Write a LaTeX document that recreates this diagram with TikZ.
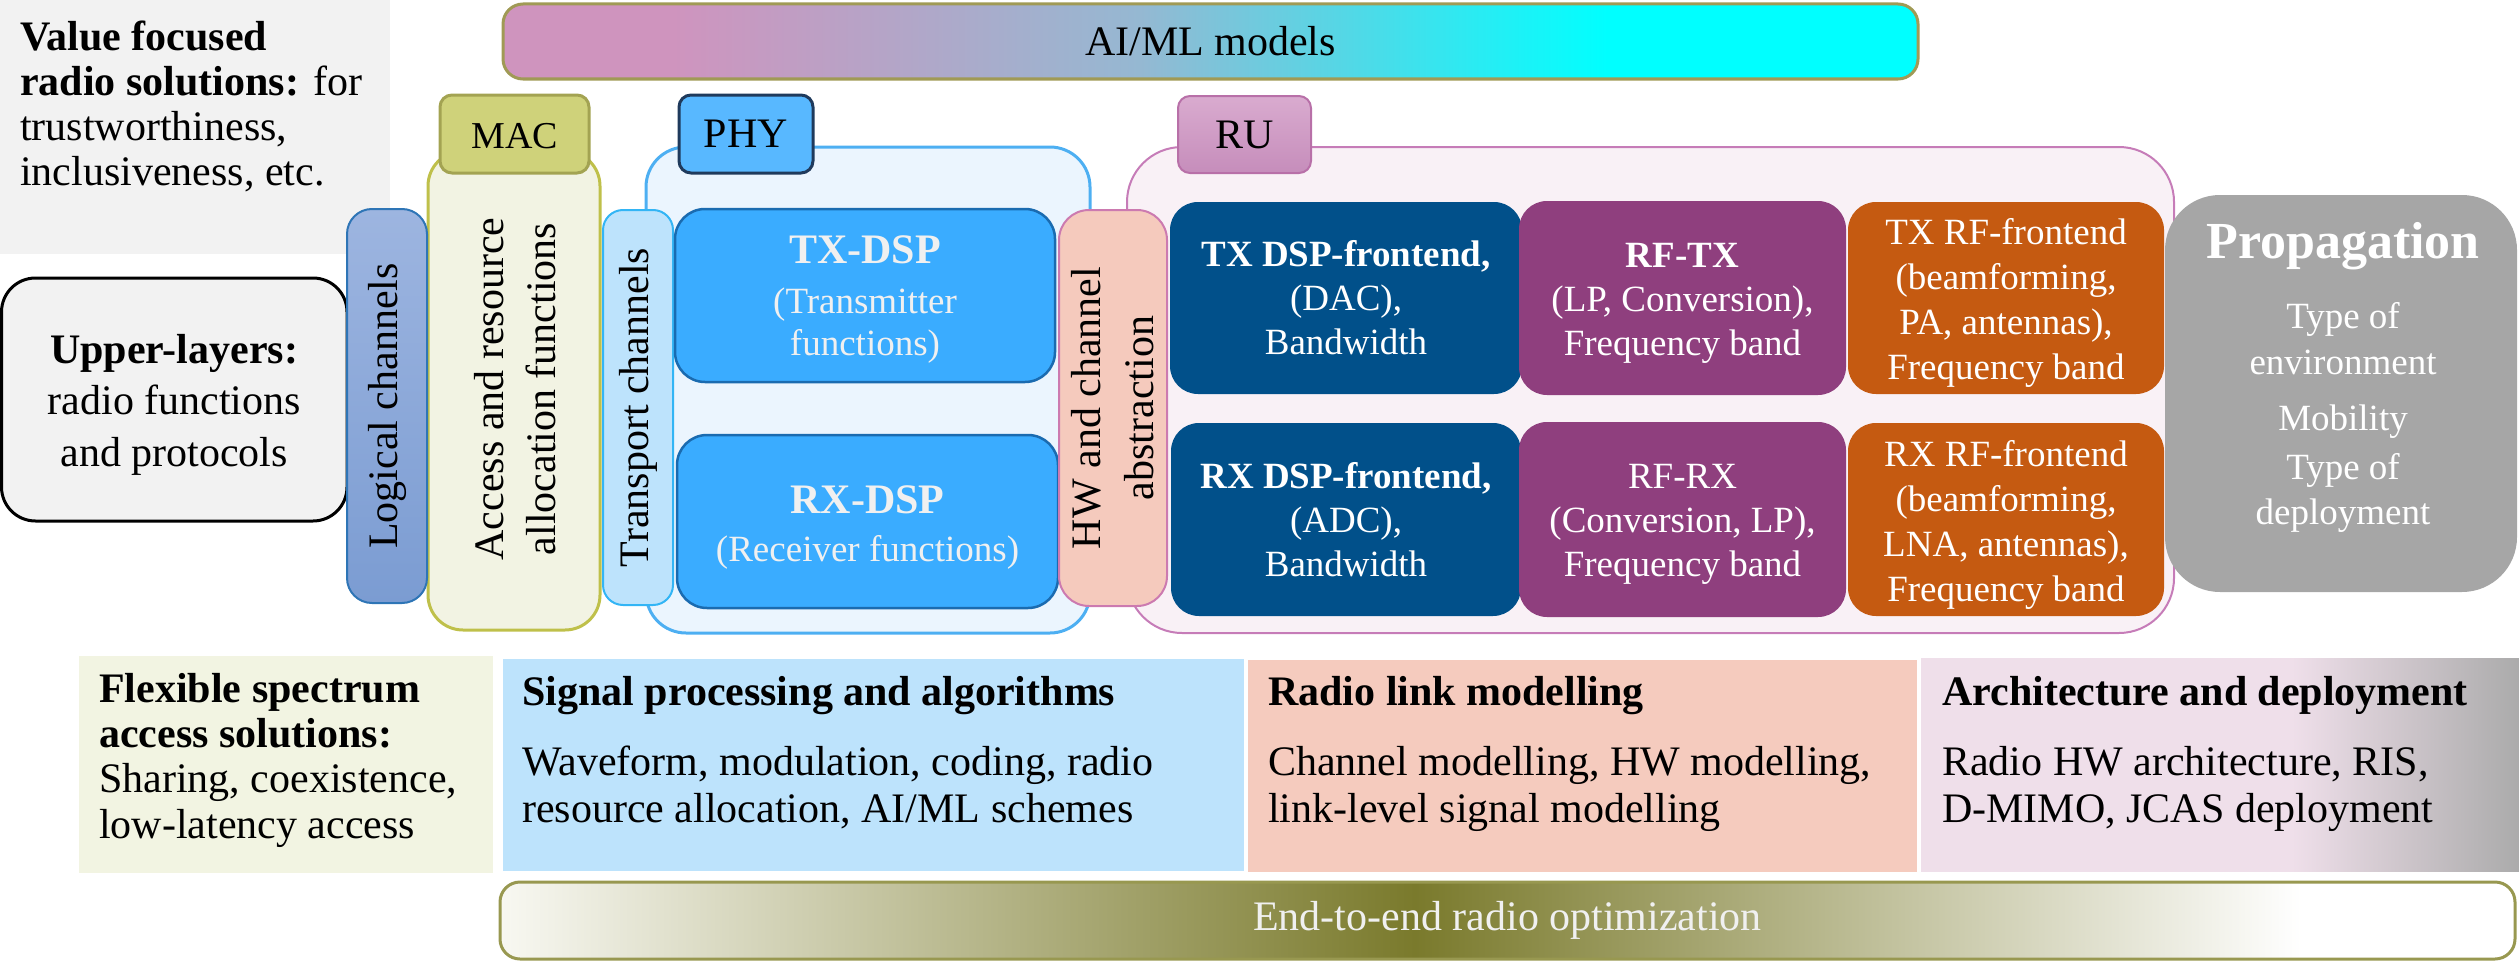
\documentclass[tikz,border=0pt]{standalone}
\usepackage{fontspec}
\setmainfont{Liberation Serif}
\usetikzlibrary{fit}

% palette
\definecolor{grayPanel}{HTML}{F2F2F2}
\definecolor{aiPink}{HTML}{CF94BE}
\definecolor{aiMid}{HTML}{95B8D2}
\definecolor{aiCyan}{HTML}{00FFFF}
\definecolor{aiBorder}{HTML}{A09A55}
\definecolor{eeDark}{HTML}{7A7A2C}
\definecolor{eeLight}{HTML}{F8F8F2}
\definecolor{eeBorder}{HTML}{989850}
\definecolor{archPink}{HTML}{EFDFEA}
\definecolor{archGray}{HTML}{ABABAB}
\definecolor{logTop}{HTML}{9DB5E0}
\definecolor{logBot}{HTML}{7B9CD2}
\definecolor{logBorder}{HTML}{2E75B6}
\definecolor{macFill}{HTML}{CFD27A}
\definecolor{macBorder}{HTML}{A3A352}
\definecolor{macBg}{HTML}{F2F3E3}
\definecolor{macBgBorder}{HTML}{BFC04A}
\definecolor{trFill}{HTML}{BDE3FC}
\definecolor{trBorder}{HTML}{33B5F5}
\definecolor{phyBg}{HTML}{EBF5FE}
\definecolor{phyBgBorder}{HTML}{4DAFF2}
\definecolor{phyTab}{HTML}{58B8FF}
\definecolor{phyTabBorder}{HTML}{1F3A5C}
\definecolor{dspFill}{HTML}{3AACFF}
\definecolor{dspBorder}{HTML}{1A6BB0}
\definecolor{dspText}{HTML}{F0F0F0}
\definecolor{hwFill}{HTML}{F5CABD}
\definecolor{hwBorder}{HTML}{CC7AB0}
\definecolor{ruBg}{HTML}{F9F1F6}
\definecolor{ruBorder}{HTML}{C67CB8}
\definecolor{ruTabTop}{HTML}{D9ABCF}
\definecolor{ruTabBot}{HTML}{C68DBB}
\definecolor{ruTabBorder}{HTML}{B870A8}
\definecolor{feBlue}{HTML}{01508A}
\definecolor{rfPurple}{HTML}{8F3F7E}
\definecolor{rfOrange}{HTML}{C55A11}
\definecolor{propGray}{HTML}{A6A6A6}
\definecolor{flexFill}{HTML}{F2F4E2}
\definecolor{sigFill}{HTML}{BDE3FC}
\definecolor{linkFill}{HTML}{F5CBBE}

% horizontal colour ramps (the path spans 25bp..75bp)
\pgfdeclarehorizontalshading{aibar}{100bp}{color(0bp)=(aiPink); color(25bp)=(aiPink); color(31bp)=(aiPink); color(47.5bp)=(aiMid); color(64bp)=(aiCyan); color(100bp)=(aiCyan)}
\pgfdeclarehorizontalshading{e2ebar}{100bp}{color(0bp)=(eeLight); color(25bp)=(eeLight); color(47.7bp)=(eeDark); color(69.7bp)=(white); color(100bp)=(white)}
\pgfdeclarehorizontalshading{archbox}{100bp}{color(0bp)=(archPink); color(25bp)=(archPink); color(56bp)=(archPink); color(75bp)=(archGray); color(100bp)=(archGray)}

\tikzset{
  panel/.style={inner sep=0pt, outer sep=0pt},
  lbl/.style={inner sep=0pt, align=center},
  fmain/.style={font=\fontsize{42}{45}\selectfont},
  fru/.style={font=\fontsize{37}{44}\selectfont, text=white},
  fdsp/.style={font=\fontsize{37}{42}\selectfont, text=dspText},
  dspbox/.style={panel, draw=dspBorder, line width=2.5pt, fill=dspFill, rounded corners=30pt},
  rubox/.style={panel, rounded corners=28pt},
  vlabel/.style={rotate=90, inner sep=0pt, align=center},
  textblock/.style={anchor=north west, inner sep=0pt, align=left},
}

\begin{document}
\begin{tikzpicture}[x=1pt, y=-1pt]
\useasboundingbox (0,0) rectangle (2519,966);

% ---- left column ----
\node[panel, fill=grayPanel, fit={(0,0)(390,254)}] (value) {};
\node[textblock, fmain] (valuetxt) at (20,21)
  {\textbf{Value focused}\\\textbf{radio solutions:} for\\trustworthiness,\\inclusiveness, etc.};

\node[panel, draw=black, line width=3pt, fill=grayPanel, rounded corners=34pt,
      fit={(1.5,278)(347,521)}] (upper) {};
\node[lbl, font=\fontsize{42}{51.5}\selectfont, yshift=-5pt] (uppertxt) at (upper.center)
  {\textbf{Upper-layers:}\\radio functions\\and protocols};

% ---- AI/ML bar ----
\node[panel, draw=aiBorder, line width=3pt, shading=aibar, rounded corners=20pt,
      fit={(503,4)(1918,79)}] (ai) {};
\node[lbl, fmain] (aitxt) at (ai.center) {AI/ML models};

% ---- layer containers ----
\node[panel, draw=ruBorder, line width=2pt, fill=ruBg, rounded corners=55pt,
      fit={(1127,147)(2174,633)}] (ru) {};
\node[panel, draw=phyBgBorder, line width=3pt, fill=phyBg, rounded corners=40pt,
      fit={(646,147)(1090,633)}] (phy) {};
\node[panel, draw=macBgBorder, line width=3pt, fill=macBg, rounded corners=35pt,
      fit={(428,151)(600,630)}] (mac) {};

% ---- tabs ----
\node[panel, draw=macBorder, line width=3pt, fill=macFill, rounded corners=12pt,
      fit={(440,95)(589,173)}] (mactab) {};
\node[lbl, font=\fontsize{38}{38}\selectfont, yshift=-2pt] (mactabtxt) at (mactab.center) {MAC};
\node[panel, draw=phyTabBorder, line width=3pt, fill=phyTab, rounded corners=12pt,
      fit={(679,95)(813,173)}] (phytab) {};
\node[lbl, fmain] (phytabtxt) at (phytab.center) {PHY};
\node[panel, draw=ruTabBorder, line width=2pt, top color=ruTabTop, bottom color=ruTabBot,
      rounded corners=12pt, fit={(1178,96)(1311,173)}] (rutab) {};
\node[lbl, fmain] (rutabtxt) at (rutab.center) {RU};

% ---- channel strips ----
\node[panel, draw=logBorder, line width=2pt, top color=logTop, bottom color=logBot,
      rounded corners=25pt, fit={(347,209)(427,603)}] (logical) {};
\node[vlabel, fmain] (logicaltxt) at (logical.center) {Logical channels};

\node[vlabel, font=\fontsize{42}{52}\selectfont] (mactxt) at (515,389)
  {Access and resource\\allocation functions};

\node[panel, draw=trBorder, line width=2pt, fill=trFill, rounded corners=20pt,
      fit={(603,210)(673,605)}] (transport) {};
\node[vlabel, fmain] (transporttxt) at (transport.center) {Transport channels};

% ---- PHY processing ----
\node[dspbox, fit={(675,209)(1055,382)}] (txdsp) {};
\node[lbl, fdsp, yshift=-4pt] (txdsptxt) at (txdsp.center)
  {{\fontsize{42}{42}\selectfont\bfseries TX-DSP}\\[8pt](Transmitter\\functions)};
\node[dspbox, fit={(677,435)(1058,608)}] (rxdsp) {};
\node[lbl, fdsp, yshift=-6pt] (rxdsptxt) at (rxdsp.center)
  {{\fontsize{42}{42}\selectfont\bfseries RX-DSP}\\[6pt](Receiver functions)};

\node[panel, draw=hwBorder, line width=2pt, fill=hwFill, rounded corners=30pt,
      fit={(1059,210)(1167,606)}] (hw) {};
\node[vlabel, font=\fontsize{42}{53}\selectfont] (hwtxt) at (hw.center)
  {HW and channel\\abstraction};

% ---- radio unit chains ----
\node[rubox, fill=feBlue, fit={(1170,202)(1522,394)}] (txfe) {};
\node[lbl, fru] (txfetxt) at (txfe.center)
  {\textbf{TX DSP-frontend,}\\(DAC),\\Bandwidth};
\node[rubox, fill=feBlue, fit={(1171,423)(1521,616)}] (rxfe) {};
\node[lbl, fru] (rxfetxt) at (rxfe.center)
  {\textbf{RX DSP-frontend,}\\(ADC),\\Bandwidth};
\node[rubox, fill=rfPurple, fit={(1519,201)(1846,395)}] (rftx) {};
\node[lbl, fru, yshift=-5pt] (rftxtxt) at (rftx.center)
  {\textbf{RF-TX}\\(LP, Conversion),\\Frequency band};
\node[rubox, fill=rfPurple, fit={(1519,422)(1846,617)}] (rfrx) {};
\node[lbl, fru, yshift=-5pt] (rfrxtxt) at (rfrx.center)
  {RF-RX\\(Conversion, LP),\\Frequency band};
\node[rubox, fill=rfOrange, fit={(1848,202)(2164,394)}] (txrf) {};
\node[lbl, fru, font=\fontsize{37}{45}\selectfont, yshift=-5pt] (txrftxt) at (txrf.center)
  {TX RF-frontend\\(beamforming,\\PA, antennas),\\Frequency band};
\node[rubox, fill=rfOrange, fit={(1848,423)(2164,616)}] (rxrf) {};
\node[lbl, fru, font=\fontsize{37}{45}\selectfont, yshift=-5pt] (rxrftxt) at (rxrf.center)
  {RX RF-frontend\\(beamforming,\\LNA, antennas),\\Frequency band};

% ---- propagation ----
\node[panel, fill=propGray, rounded corners=55pt, fit={(2165,195)(2517,592)}] (prop) {};
\node[anchor=north, inner sep=0pt, align=center, text=white, font=\fontsize{37}{46}\selectfont]
  (proptxt) at (2343,222)
  {{\fontsize{52}{52}\selectfont\bfseries Propagation}\\[24pt]Type of\\environment\\[10pt]Mobility\\[3pt]Type of\\[-1pt]deployment};

% ---- research areas ----
\node[panel, fill=flexFill, fit={(79,656)(493,873)}] (flex) {};
\node[textblock, font=\fontsize{42}{45.3}\selectfont] (flextxt) at (99,673)
  {\textbf{Flexible spectrum}\\\textbf{access solutions:}\\Sharing, coexistence,\\low-latency access};

\node[panel, fill=sigFill, fit={(503,659)(1244,871)}] (sig) {};
\node[textblock, font=\fontsize{42}{47}\selectfont] (sigtxt) at (522,676)
  {\textbf{Signal processing and algorithms}\\[23pt]Waveform, modulation, coding, radio\\resource allocation, AI/ML schemes};

\node[panel, fill=linkFill, fit={(1248,660)(1917,872)}] (link) {};
\node[textblock, font=\fontsize{42}{47}\selectfont] (linktxt) at (1268,676)
  {\textbf{Radio link modelling}\\[23pt]Channel modelling, HW modelling,\\link-level signal modelling};

\node[panel, shading=archbox, fit={(1921,658)(2519,871)}] (arch) {};
\node[textblock, font=\fontsize{42}{47}\selectfont] (archtxt) at (1942,676)
  {\textbf{Architecture and deployment}\\[23pt]Radio HW architecture, RIS,\\D-MIMO, JCAS deployment};

% ---- end-to-end bar ----
\node[panel, draw=eeBorder, line width=3pt, shading=e2ebar, rounded corners=20pt,
      fit={(500,882)(2515,959)}] (e2e) {};
\node[lbl, fmain, text=dspText] (e2etxt) at (e2e.center) {End-to-end radio optimization};

\end{tikzpicture}
\end{document}
